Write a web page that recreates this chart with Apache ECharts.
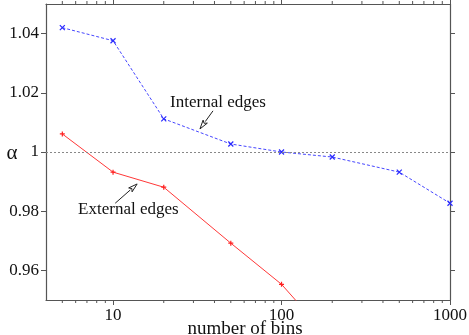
<!DOCTYPE html>
<html><head><meta charset="utf-8">
<script src="https://cdn.jsdelivr.net/npm/echarts@6/dist/echarts.min.js"></script>
<style>html,body{margin:0;padding:0;background:#fff}#c{width:469px;height:335px}</style>
</head><body><div id="c"></div>
<script>
// ---- data ----
const internalBins = [5, 10, 20, 50, 100, 200, 500, 1000];
const internalAlpha = [1.0420, 1.0376, 1.0112, 1.0027, 1.0000, 0.9983, 0.9932, 0.9827];
const externalBins = [5, 10, 20, 50, 100, 200];
const externalAlpha = [1.0061, 0.9932, 0.9881, 0.9692, 0.9553, 0.9360];
const xTickValues = [10, 100, 1000];
const xMinorTicks = [5, 6, 7, 8, 9, 20, 30, 40, 50, 60, 70, 80, 90, 200, 300, 400, 500, 600, 700, 800, 900];
const yTickValues = [0.96, 0.98, 1, 1.02, 1.04];
const referenceAlpha = 1;
const xTitle = 'number of bins';
const yTitle = 'α';
// annotation anchors (data coords)
const internalLabel = { text: 'Internal edges', at: [21.8, 1.0166], tail: [39.2, 1.0139], head: [32.8, 1.0078] };
const externalLabel = { text: 'External edges', at: [6.2, 0.9807], tail: [10.3, 0.9827], head: [13.9, 0.9892] };

const FONT = '"Liberation Serif", "DejaVu Serif", serif';
const AX = '#555';
const zip = (a, b) => a.map((v, i) => [v, b[i]]);

const chart = echarts.init(document.getElementById('c'), null, { renderer: 'canvas' });

const xCommon = {
  type: 'log', logBase: 10, min: 4, max: 1000,
  axisLine: { show: true, onZero: false, lineStyle: { color: AX, width: 1.2 } },
  axisTick: { show: true, inside: false, length: 5, customValues: xTickValues, lineStyle: { color: AX } },
  splitLine: { show: false }, minorTick: { show: false }, minorSplitLine: { show: false }
};
const yCommon = {
  type: 'value', min: 0.95, max: 1.05, scale: true,
  axisLine: { show: true, onZero: false, lineStyle: { color: AX, width: 1.2 } },
  axisTick: { show: true, inside: false, length: 5, customValues: yTickValues, lineStyle: { color: AX } },
  splitLine: { show: false }
};

const option = {
  animation: false,
  backgroundColor: '#fff',
  grid: { left: 46, right: 19, top: 4, bottom: 35, containLabel: false, outerBoundsMode: 'none' },
  xAxis: [
    Object.assign({}, xCommon, {
      position: 'bottom',
      axisLabel: { show: true, customValues: xTickValues, margin: 7, fontFamily: FONT, fontSize: 17, color: '#111',
        formatter: v => String(Math.round(v)) }
    }),
    Object.assign({}, xCommon, { position: 'top', axisLabel: { show: false } })
  ],
  yAxis: [
    Object.assign({}, yCommon, {
      position: 'left',
      axisLabel: { show: true, customValues: yTickValues, margin: 7, fontFamily: FONT, fontSize: 17, color: '#111',
        formatter: v => String(parseFloat(v.toFixed(2))) }
    }),
    Object.assign({}, yCommon, { position: 'right', axisLabel: { show: false } })
  ],
  series: [
    {
      name: 'Internal edges', type: 'line', xAxisIndex: 0, yAxisIndex: 0,
      data: zip(internalBins, internalAlpha),
      lineStyle: { color: '#4646ff', width: 1, type: [3, 2] },
      symbol: 'path://M0,0L10,10M10,0L0,10', symbolSize: 5,
      itemStyle: { color: 'rgba(0,0,0,0)', borderColor: '#2a2aff', borderWidth: 1.2 },
      clip: true, silent: true,
      markLine: {
        silent: true, symbol: 'none', label: { show: false },
        lineStyle: { color: '#888', type: [2, 2], width: 1 },
        data: [{ yAxis: referenceAlpha }]
      }
    },
    {
      name: 'External edges', type: 'line', xAxisIndex: 0, yAxisIndex: 0,
      data: zip(externalBins, externalAlpha),
      lineStyle: { color: '#ff3838', width: 1, type: 'solid' },
      symbol: 'path://M5,0L5,10M0,5L10,5', symbolSize: 5,
      itemStyle: { color: 'rgba(0,0,0,0)', borderColor: '#ff2020', borderWidth: 1.2 },
      clip: true, silent: true
    },
    {
      name: 'minorTicks', type: 'custom', xAxisIndex: 0, yAxisIndex: 0, silent: true, clip: false,
      data: xMinorTicks.map(v => [v, 1]),
      renderItem: (params, api) => {
        const p = api.coord([api.value(0), 1]);
        const cs = params.coordSys;
        const top = cs.y, bot = cs.y + cs.height;
        return { type: 'group', children: [
          { type: 'line', shape: { x1: p[0], y1: top, x2: p[0], y2: top - 3 }, style: { stroke: AX, lineWidth: 1 } },
          { type: 'line', shape: { x1: p[0], y1: bot, x2: p[0], y2: bot + 3 }, style: { stroke: AX, lineWidth: 1 } }
        ] };
      }
    }
  ]
};
chart.setOption(option);

function arrow(tail, head) {
  const t = chart.convertToPixel({ gridIndex: 0 }, tail);
  const h = chart.convertToPixel({ gridIndex: 0 }, head);
  const dx = h[0] - t[0], dy = h[1] - t[1];
  const L = Math.hypot(dx, dy), ux = dx / L, uy = dy / L;
  const al = 9, aw = 2.6;
  const bx = h[0] - ux * al, by = h[1] - uy * al;
  return [
    { type: 'line', shape: { x1: t[0], y1: t[1], x2: bx, y2: by }, style: { stroke: '#222', lineWidth: 1 } },
    { type: 'polygon', shape: { points: [[h[0], h[1]], [bx - uy * aw, by + ux * aw], [bx + ux * 2, by + uy * 2], [bx + uy * aw, by - ux * aw]] },
      style: { fill: '#fff', stroke: '#222', lineWidth: 1 } }
  ];
}
function label(a) {
  const p = chart.convertToPixel({ gridIndex: 0 }, a.at);
  return { type: 'text', x: p[0], y: p[1], style: { text: a.text, font: '17px ' + FONT, fill: '#111', textAlign: 'left', textVerticalAlign: 'middle' } };
}
const grid0 = chart.getModel().getComponent('grid', 0).coordinateSystem.getRect();
const yAlphaPx = chart.convertToPixel({ yAxisIndex: 0 }, referenceAlpha);
chart.setOption({
  graphic: [label(internalLabel), label(externalLabel),
    { type: 'text', x: grid0.x + grid0.width / 2 - 3, y: grid0.y + grid0.height + 29,
      style: { text: xTitle, font: '19px ' + FONT, fill: '#111', textAlign: 'center', textVerticalAlign: 'middle' } },
    { type: 'text', x: 12, y: yAlphaPx + 1,
      style: { text: yTitle, font: '21px ' + FONT, fill: '#111', textAlign: 'center', textVerticalAlign: 'middle' } }
  ]
    .concat(arrow(internalLabel.tail, internalLabel.head))
    .concat(arrow(externalLabel.tail, externalLabel.head))
});
</script>
</body></html>
